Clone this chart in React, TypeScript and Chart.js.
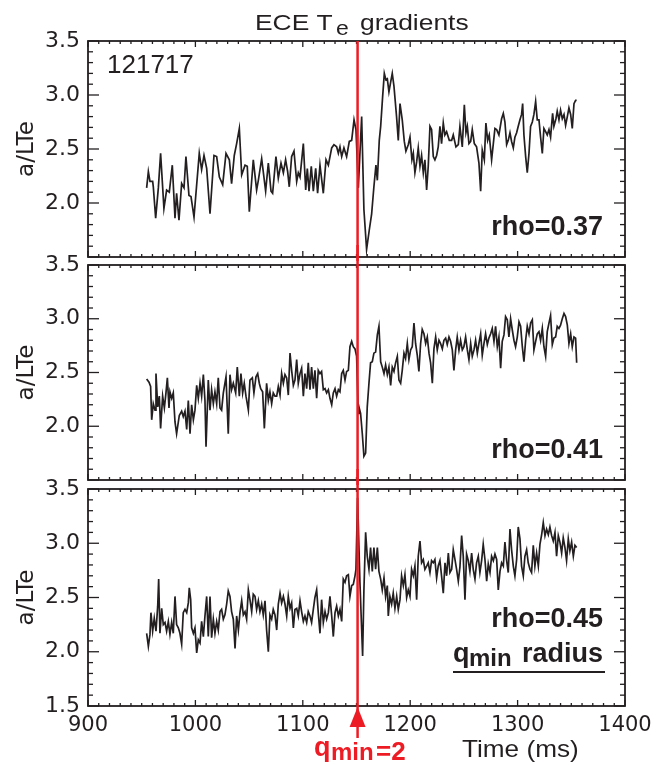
import React, { useEffect, useRef } from 'react';
import { Chart, registerables } from 'chart.js';

Chart.register(...registerables);

// ---------- data ----------
const X_MIN = 900;
const X_MAX = 1400;
const X_STEP = 100;
const Y_MIN = 1.5;
const Y_MAX = 3.5;
const Y_STEP = 0.5;
const QMIN_TIME = 1151; // time of q_min = 2 crossing (ms)
const SHOT = '121717';
const TITLE_MAIN = 'ECE T';
const TITLE_SUB = 'e';
const TITLE_REST = 'gradients';
const Y_LABEL = 'a/LTe';
const X_LABEL = 'Time (ms)';
const RHO_LABELS = ['rho=0.37', 'rho=0.41', 'rho=0.45'];

// rho = 0.37
const time037 = [
  954.6, 956.2, 957.7, 960.2, 960.8, 963.0, 965.5, 967.6, 970.7, 973.2,
  975.7, 978.5, 981.0, 982.5, 984.7, 987.2, 989.4, 991.2, 994.0, 995.9,
  998.7, 1003.6, 1005.8, 1008.0, 1010.5, 1013.6, 1017.3, 1019.8, 1022.3, 1025.4,
  1028.5, 1031.6, 1033.7, 1036.2, 1038.4, 1040.9, 1043.1, 1046.2, 1048.3, 1050.2,
  1053.9, 1057.0, 1058.6, 1061.7, 1065.4, 1067.9, 1070.4, 1071.9, 1075.0, 1077.2,
  1079.7, 1081.9, 1084.0, 1085.9, 1087.4, 1089.6, 1091.8, 1094.3, 1095.8, 1097.4,
  1100.5, 1102.7, 1104.2, 1105.8, 1107.9, 1109.8, 1112.0, 1113.8, 1116.0, 1119.1,
  1121.6, 1123.8, 1126.9, 1129.0, 1131.5, 1133.1, 1134.6, 1136.2, 1138.3, 1140.8,
  1143.3, 1145.5, 1147.7, 1149.5, 1151.7,
  1154.8, 1156.9, 1159.4, 1161.9, 1164.1, 1166.2, 1168.1, 1169.4, 1171.2, 1172.5,
  1174.3, 1175.9, 1177.4, 1178.7, 1180.2, 1181.8, 1183.3, 1184.9, 1187.3, 1188.9,
  1190.5, 1192.6, 1194.5, 1196.0, 1198.2, 1199.8, 1201.6, 1202.9, 1204.4, 1206.0,
  1207.5, 1209.1, 1210.6, 1212.2, 1213.7, 1215.3, 1216.8, 1218.4, 1219.9, 1221.5,
  1223.0, 1224.6, 1226.1, 1227.7, 1229.2, 1230.8, 1232.3, 1233.9, 1236.4, 1238.6,
  1240.1, 1242.6, 1244.8, 1246.3, 1248.5, 1250.4, 1251.9, 1253.2, 1254.7, 1256.3,
  1257.8, 1259.7, 1261.8, 1264.0, 1265.6, 1267.1, 1269.0, 1270.5, 1272.1, 1273.6,
  1275.8, 1277.4, 1278.9, 1280.5, 1282.6, 1285.1, 1286.7, 1288.2, 1289.8, 1291.3,
  1292.9, 1294.4, 1296.0, 1297.5, 1299.1, 1300.6, 1302.2, 1303.7, 1304.7, 1305.9,
  1307.5, 1309.0, 1310.6, 1312.1, 1313.7, 1315.2, 1316.8, 1318.3, 1319.9, 1321.4,
  1323.0, 1324.5, 1326.1, 1327.6, 1329.2, 1330.7, 1332.6, 1333.8, 1335.7, 1336.9,
  1338.5, 1340.0, 1341.6, 1343.2, 1344.7, 1346.3, 1347.8, 1349.4, 1350.9, 1352.5,
  1354.0, 1355.0,
];
const grad037 = [
  2.14, 2.29, 2.20, 2.20, 2.15, 1.86, 2.14, 2.46, 1.95, 2.12,
  2.10, 2.35, 1.86, 2.09, 1.84, 2.18, 2.14, 2.43, 2.07, 2.06,
  1.87, 2.46, 2.31, 2.44, 2.32, 1.90, 2.44, 2.43, 2.24, 2.17,
  2.46, 2.40, 2.18, 2.44, 2.55, 2.69, 2.26, 2.35, 2.34, 1.92,
  2.40, 2.12, 2.21, 2.41, 2.11, 2.37, 2.11, 2.09, 2.43, 2.23,
  2.37, 2.28, 2.40, 2.29, 2.15, 2.43, 2.48, 2.20, 2.28, 2.24,
  2.55, 2.12, 2.32, 2.11, 2.34, 2.11, 2.32, 2.09, 2.35, 2.09,
  2.40, 2.35, 2.51, 2.54, 2.52, 2.46, 2.52, 2.43, 2.51, 2.43,
  2.57, 2.58, 2.77, 2.68, 2.14,
  2.80, 1.94, 1.57, 1.75, 1.90, 2.15, 2.35, 2.21, 2.58, 2.71,
  2.98, 3.20, 3.14, 3.15, 3.03, 3.12, 3.20, 3.08, 2.80, 2.58,
  2.92, 2.77, 2.57, 2.48, 2.54, 2.61, 2.40, 2.46, 2.28, 2.38,
  2.51, 2.34, 2.44, 2.28, 2.40, 2.12, 2.34, 2.71, 2.68, 2.43,
  2.40, 2.44, 2.52, 2.71, 2.55, 2.74, 2.63, 2.66, 2.58, 2.58,
  2.63, 2.52, 2.54, 2.71, 2.52, 2.91, 2.65, 2.71, 2.55, 2.57,
  2.68, 2.55, 2.52, 2.37, 2.11, 2.49, 2.40, 2.74, 2.58, 2.63,
  2.40, 2.55, 2.69, 2.68, 2.63, 2.78, 2.83, 2.75, 2.54, 2.58,
  2.65, 2.57, 2.51, 2.61, 2.65, 2.71, 2.77, 2.82, 2.92, 2.63,
  2.43, 2.28, 2.46, 2.71, 2.75, 2.82, 2.94, 2.77, 2.77, 2.61,
  2.46, 2.69, 2.66, 2.63, 2.68, 2.61, 2.83, 2.71, 2.78, 2.85,
  2.77, 2.86, 2.78, 2.82, 2.72, 2.80, 2.88, 2.82, 2.69, 2.92,
  2.95, 2.95,
];

// rho = 0.41
const time041 = [
  954.6, 956.8, 958.3, 959.3, 960.8, 962.4, 963.3, 964.9, 966.4, 967.6,
  969.5, 971.1, 972.6, 973.9, 975.4, 976.3, 977.9, 979.4, 981.0, 982.5,
  985.0, 987.2, 988.7, 990.3, 991.9, 993.4, 995.0, 996.5, 998.1, 999.6,
  1001.2, 1002.7, 1004.3, 1005.8, 1007.4, 1008.9, 1009.9, 1012.0, 1013.6, 1015.1,
  1016.7, 1018.2, 1019.8, 1021.3, 1022.9, 1024.4, 1026.0, 1028.5, 1030.6, 1032.2,
  1033.7, 1035.3, 1037.5, 1039.0, 1040.9, 1042.4, 1044.0, 1045.5, 1047.1, 1049.3,
  1050.8, 1053.0, 1054.5, 1056.4, 1058.0, 1059.5, 1060.8, 1062.6, 1064.2, 1066.3,
  1067.9, 1069.4, 1071.0, 1072.5, 1074.1, 1075.7, 1077.2, 1078.8, 1080.3, 1081.9,
  1083.4, 1085.0, 1086.5, 1088.1, 1089.6, 1091.2, 1092.7, 1094.3, 1095.8, 1097.4,
  1098.9, 1100.5, 1102.0, 1103.6, 1105.1, 1106.7, 1108.2, 1109.8, 1111.3, 1112.9,
  1114.4, 1116.0, 1117.5, 1119.1, 1120.7, 1122.2, 1123.8, 1125.3, 1126.9, 1128.4,
  1130.0, 1131.5, 1133.1, 1134.6, 1136.2, 1137.7, 1139.3, 1140.8, 1142.4, 1143.9,
  1145.5, 1147.0, 1148.6, 1150.1, 1151.7,
  1152.3, 1153.8, 1155.4, 1156.9, 1158.5, 1160.0, 1161.6, 1163.1, 1164.7, 1166.2,
  1167.8, 1169.4, 1170.9, 1172.5, 1174.0, 1175.6, 1177.1, 1178.7, 1180.2, 1181.8,
  1183.3, 1184.9, 1186.4, 1188.0, 1189.5, 1191.1, 1192.6, 1194.2, 1195.7, 1197.3,
  1198.8, 1200.4, 1201.9, 1203.5, 1205.0, 1206.6, 1208.1, 1209.7, 1211.2, 1212.8,
  1214.4, 1215.9, 1217.5, 1219.0, 1220.6, 1222.1, 1223.7, 1225.2, 1226.8, 1228.3,
  1229.9, 1231.4, 1233.0, 1234.5, 1236.1, 1237.6, 1239.2, 1240.7, 1242.3, 1243.8,
  1245.4, 1246.9, 1248.5, 1250.0, 1251.6, 1253.2, 1254.7, 1256.3, 1257.8, 1259.4,
  1260.9, 1262.5, 1264.0, 1265.6, 1267.1, 1268.7, 1270.2, 1271.8, 1273.3, 1274.9,
  1276.4, 1278.0, 1279.5, 1281.1, 1282.6, 1284.2, 1285.7, 1287.3, 1288.8, 1290.4,
  1291.9, 1293.5, 1295.0, 1296.6, 1298.1, 1299.7, 1301.3, 1302.8, 1304.4, 1305.9,
  1307.5, 1309.0, 1310.6, 1312.1, 1313.7, 1315.2, 1316.8, 1318.3, 1319.9, 1321.4,
  1323.0, 1324.5, 1326.1, 1327.6, 1329.2, 1330.7, 1332.3, 1333.8, 1335.4, 1336.9,
  1338.5, 1340.0, 1341.6, 1343.2, 1344.7, 1346.3, 1347.8, 1349.4, 1350.9, 1352.5,
  1354.0, 1355.0,
];
const grad041 = [
  2.44, 2.41, 2.37, 2.06, 2.21, 2.15, 2.49, 2.18, 2.28, 1.98,
  2.28, 2.17, 2.31, 2.45, 2.17, 2.32, 2.26, 2.31, 2.04, 1.93,
  2.10, 2.14, 2.09, 2.14, 1.97, 2.24, 1.93, 2.20, 2.06, 2.15,
  2.38, 2.26, 2.40, 2.28, 2.48, 2.24, 1.81, 2.43, 2.15, 2.34,
  2.21, 2.32, 2.21, 2.45, 2.17, 2.15, 2.31, 2.46, 1.93, 2.48,
  2.34, 2.40, 2.31, 2.55, 2.28, 2.49, 2.31, 2.40, 2.28, 2.15,
  2.43, 2.45, 2.31, 2.46, 2.49, 2.40, 2.35, 2.32, 1.98, 2.40,
  2.24, 2.32, 2.21, 2.31, 2.28, 2.28, 2.37, 2.29, 2.49, 2.40,
  2.48, 2.45, 2.29, 2.68, 2.52, 2.38, 2.43, 2.62, 2.40, 2.49,
  2.54, 2.28, 2.49, 2.35, 2.59, 2.34, 2.55, 2.35, 2.52, 2.26,
  2.52, 2.49, 2.51, 2.34, 2.35, 2.31, 2.34, 2.26, 2.20, 2.31,
  2.35, 2.28, 2.34, 2.32, 2.49, 2.52, 2.43, 2.51, 2.52, 2.74,
  2.79, 2.74, 2.72, 2.65, 2.12,
  2.18, 2.12, 1.93, 1.72, 1.75, 2.18, 2.40, 2.59, 2.60, 2.68,
  2.69, 2.85, 2.93, 2.60, 2.55, 2.49, 2.57, 2.48, 2.55, 2.38,
  2.55, 2.51, 2.59, 2.65, 2.43, 2.40, 2.52, 2.68, 2.63, 2.77,
  2.62, 2.71, 2.74, 2.96, 2.77, 2.66, 2.51, 2.77, 2.90, 2.86,
  2.77, 2.83, 2.68, 2.59, 2.40, 2.72, 2.83, 2.71, 2.80, 2.77,
  2.72, 2.80, 2.82, 2.76, 2.83, 2.79, 2.71, 2.52, 2.71, 2.83,
  2.71, 2.80, 2.71, 2.74, 2.83, 2.71, 2.62, 2.77, 2.65, 2.71,
  2.80, 2.68, 2.77, 2.86, 2.66, 2.77, 2.86, 2.76, 2.82, 2.86,
  2.91, 2.79, 2.93, 2.74, 2.83, 2.54, 2.79, 2.85, 3.02, 2.99,
  2.83, 3.00, 2.90, 2.80, 2.74, 2.83, 2.97, 2.93, 2.74, 2.60,
  2.80, 2.93, 2.86, 2.96, 2.99, 2.71, 2.79, 2.86, 2.88, 2.80,
  2.91, 2.74, 2.65, 2.88, 2.96, 3.03, 2.76, 2.82, 2.83, 2.93,
  2.91, 2.94, 3.00, 3.05, 3.02, 2.94, 2.77, 2.86, 2.74, 2.83,
  2.82, 2.59,
];

// rho = 0.45
const time045 = [
  954.6, 956.2, 957.7, 958.6, 960.2, 961.7, 963.3, 964.9, 965.8, 967.0,
  968.6, 970.1, 971.7, 973.2, 974.8, 976.3, 977.9, 979.4, 981.0, 982.5,
  984.1, 985.6, 987.2, 988.7, 990.3, 991.9, 993.4, 994.3, 995.6, 996.5,
  998.1, 999.6, 1001.2, 1002.7, 1004.3, 1005.8, 1007.4, 1008.9, 1010.5, 1012.0,
  1013.6, 1015.1, 1016.7, 1018.2, 1019.8, 1021.3, 1022.9, 1024.4, 1026.0, 1027.5,
  1029.1, 1030.6, 1032.2, 1033.7, 1035.3, 1036.9, 1038.4, 1040.0, 1041.5, 1043.1,
  1044.6, 1046.2, 1047.7, 1049.3, 1050.8, 1052.4, 1053.9, 1055.5, 1057.0, 1058.6,
  1060.1, 1061.7, 1063.2, 1064.8, 1066.3, 1067.9, 1069.4, 1071.0, 1072.5, 1074.1,
  1075.7, 1077.2, 1078.8, 1080.3, 1081.9, 1083.4, 1085.0, 1086.5, 1088.1, 1089.6,
  1091.2, 1092.7, 1094.3, 1095.8, 1097.4, 1098.9, 1100.5, 1102.0, 1103.6, 1105.1,
  1106.7, 1108.2, 1109.8, 1111.3, 1112.9, 1114.4, 1116.0, 1117.5, 1119.1, 1120.7,
  1122.2, 1123.8, 1125.3, 1126.9, 1128.4, 1130.0, 1131.5, 1133.1, 1134.6, 1136.2,
  1137.7, 1139.3, 1140.8, 1142.4, 1143.9, 1145.5, 1147.0, 1148.6, 1149.5,
  1151.0, 1153.2, 1154.8, 1155.7, 1156.9, 1158.5, 1160.0, 1161.6, 1163.1, 1164.7,
  1166.2, 1167.8, 1169.4, 1170.9, 1172.5, 1174.0, 1175.6, 1177.1, 1178.7, 1179.6,
  1181.1, 1182.7, 1184.2, 1185.8, 1187.4, 1188.9, 1190.5, 1192.0, 1193.6, 1195.1,
  1196.7, 1198.2, 1199.8, 1201.3, 1202.9, 1204.4, 1206.0, 1207.5, 1209.1, 1210.6,
  1212.2, 1213.7, 1215.3, 1216.8, 1218.4, 1219.9, 1221.5, 1223.0, 1224.6, 1226.1,
  1227.7, 1229.2, 1230.8, 1232.4, 1233.9, 1235.5, 1237.0, 1238.6, 1240.1, 1241.7,
  1243.2, 1244.8, 1246.3, 1247.9, 1249.4, 1251.0, 1252.5, 1254.1, 1255.6, 1257.2,
  1258.7, 1260.3, 1261.8, 1263.4, 1264.9, 1266.5, 1268.0, 1269.6, 1271.2, 1272.7,
  1274.3, 1275.8, 1277.4, 1278.9, 1280.5, 1282.0, 1283.6, 1285.1, 1286.7, 1288.2,
  1289.8, 1291.3, 1292.9, 1294.4, 1296.0, 1297.5, 1299.1, 1300.6, 1302.2, 1303.7,
  1305.3, 1306.8, 1308.4, 1309.9, 1311.5, 1313.0, 1314.6, 1316.1, 1317.7, 1319.3,
  1320.8, 1322.4, 1323.9, 1325.5, 1327.0, 1328.6, 1330.1, 1331.7, 1333.2, 1334.8,
  1336.3, 1337.9, 1339.4, 1341.0, 1342.5, 1344.1, 1345.6, 1347.2, 1348.7, 1350.3,
  1351.9, 1353.4, 1355.0,
];
const grad045 = [
  2.17, 2.05, 2.16, 2.36, 2.19, 2.31, 2.19, 2.42, 2.67, 2.17,
  2.40, 2.25, 2.27, 2.19, 2.28, 2.16, 2.27, 2.17, 2.51, 2.25,
  2.22, 2.17, 2.07, 2.36, 2.39, 2.36, 2.45, 2.59, 2.48, 2.22,
  2.17, 2.22, 1.99, 2.11, 2.08, 2.28, 2.14, 2.33, 2.51, 2.14,
  2.51, 2.13, 2.30, 2.17, 2.28, 2.20, 2.37, 2.39, 2.30, 2.34,
  2.44, 2.56, 2.51, 2.37, 2.30, 2.03, 2.33, 2.20, 2.36, 2.47,
  2.34, 2.37, 2.30, 2.57, 2.48, 2.37, 2.53, 2.51, 2.39, 2.47,
  2.37, 2.44, 2.34, 2.47, 2.20, 2.00, 2.34, 2.30, 2.39, 2.34,
  2.20, 2.44, 2.54, 2.45, 2.51, 2.44, 2.33, 2.51, 2.40, 2.45,
  2.22, 2.39, 2.40, 2.33, 2.47, 2.37, 2.28, 2.33, 2.27, 2.37,
  2.33, 2.27, 2.39, 2.50, 2.57, 2.36, 2.17, 2.48, 2.27, 2.37,
  2.30, 2.36, 2.51, 2.33, 2.14, 2.36, 2.42, 2.33, 2.39, 2.28,
  2.67, 2.64, 2.70, 2.71, 2.51, 2.61, 2.62, 2.70, 2.76,
  3.42, 2.64, 2.20, 1.96, 2.57, 3.10, 2.88, 2.76, 2.96, 2.74,
  2.96, 2.76, 2.96, 2.74, 2.67, 2.57, 2.68, 2.51, 2.61, 2.33,
  2.51, 2.44, 2.54, 2.40, 2.51, 2.39, 2.48, 2.70, 2.61, 2.71,
  2.50, 2.57, 2.51, 2.76, 2.70, 2.79, 2.48, 2.88, 3.02, 2.82,
  2.85, 2.76, 2.79, 2.82, 2.73, 2.84, 2.82, 2.85, 2.68, 2.79,
  2.84, 2.70, 2.54, 2.82, 2.70, 2.91, 2.73, 2.76, 2.94, 2.85,
  2.76, 2.65, 2.78, 3.07, 2.88, 2.48, 2.90, 2.84, 2.74, 2.91,
  2.76, 2.67, 2.82, 2.88, 2.73, 2.84, 2.99, 2.85, 2.65, 2.81,
  2.73, 2.88, 2.84, 2.90, 2.85, 2.57, 2.74, 2.82, 2.79, 3.01,
  2.84, 2.73, 3.13, 2.94, 2.79, 2.70, 2.85, 3.15, 3.04, 2.79,
  2.70, 2.88, 2.94, 2.82, 2.76, 2.73, 2.98, 2.79, 2.91, 2.79,
  2.99, 3.08, 3.19, 3.07, 3.13, 3.08, 3.15, 3.07, 3.02, 3.10,
  2.88, 3.07, 3.01, 2.91, 3.05, 2.96, 2.84, 3.04, 2.93, 3.01,
  2.88, 2.98, 2.96,
];

// ---------- styling ----------
const INK = '#231f20';
const RED = '#ed1c24';
const TICK_FONT = '"DejaVu Sans", sans-serif';
const SANS = '"Liberation Sans", Arial, sans-serif';
const W = 658;
// canvases overlap a little so the top tick label of each lower panel is not clipped
const PANEL_TOPS = [0, 245, 469];
const PANEL_HEIGHTS = [261, 240, 297];
const PAD_TOP = [41, 20, 20];
const PAD_BOTTOM = [4, 5, 0];

function zip(t: number[], v: number[]) {
  const n = Math.min(t.length, v.length);
  const out: { x: number; y: number }[] = [];
  for (let i = 0; i < n; i++) out.push({ x: t[i], y: v[i] });
  return out;
}

function txt(ctx: CanvasRenderingContext2D, s: string, x: number, y: number, font: string, color: string, align: CanvasTextAlign = 'left', sx = 1) {
  ctx.save();
  ctx.font = font;
  ctx.fillStyle = color;
  ctx.textAlign = align;
  ctx.textBaseline = 'alphabetic';
  ctx.translate(x, y);
  ctx.scale(sx, 1);
  ctx.fillText(s, 0, 0);
  ctx.restore();
}

function seg(ctx: CanvasRenderingContext2D, x1: number, y1: number, x2: number, y2: number) {
  ctx.beginPath();
  ctx.moveTo(x1, y1);
  ctx.lineTo(x2, y2);
  ctx.stroke();
}

function decorPlugin(panel: number) {
  const top = PANEL_TOPS[panel];
  return {
    id: 'decor' + panel,
    afterDatasetsDraw(chart: any) {
      const { ctx, chartArea: a, scales } = chart;
      const xs = scales.x;
      const ys = scales.y;
      ctx.save();
      ctx.strokeStyle = INK;
      ctx.lineCap = 'butt';
      // minor / major ticks, inward on all four sides
      ctx.lineWidth = 1.3;
      const nY = Math.round((Y_MAX - Y_MIN) / 0.1);
      for (let i = 0; i <= nY; i++) {
        const y = ys.getPixelForValue(Y_MIN + i * 0.1);
        const len = i % 5 === 0 ? 11 : 5;
        seg(ctx, a.left, y, a.left + len, y);
        seg(ctx, a.right, y, a.right - len, y);
      }
      for (let t = X_MIN; t <= X_MAX; t += 10) {
        const x = xs.getPixelForValue(t);
        const len = (t - X_MIN) % X_STEP === 0 ? 6 : 3;
        seg(ctx, x, a.bottom, x, a.bottom - len);
        seg(ctx, x, a.top, x, a.top + len);
      }
      // frame
      ctx.lineWidth = 1.8;
      ctx.strokeRect(a.left, a.top, a.right - a.left, a.bottom - a.top);

      // red q_min = 2 line
      const xr = xs.getPixelForValue(QMIN_TIME);
      ctx.strokeStyle = RED;
      ctx.lineWidth = 2.5;
      const y0 = panel === 0 ? a.top : 0;
      const y1 = panel === 2 ? 738 - top : chart.height;
      seg(ctx, xr, y0, xr, y1);

      // annotations
      const bold = (s: number) => `bold ${s}px ${SANS}`;
      txt(ctx, RHO_LABELS[panel], 603, [235, 458, 627][panel] - top, bold(27), INK, 'right');

      if (panel === 0) {
        txt(ctx, SHOT, 107, 73, `${26}px ${SANS}`, INK);
        // title
        txt(ctx, TITLE_MAIN, 255, 30, `22px ${SANS}`, INK, 'left', 1.2);
        txt(ctx, TITLE_SUB, 336, 35, `20px ${SANS}`, INK, 'left', 1.15);
        txt(ctx, TITLE_REST, 360, 30, `22px ${SANS}`, INK, 'left', 1.2);
      }
      if (panel === 2) {
        // q_min radius, underlined
        txt(ctx, 'q', 453, 662 - top, bold(27), INK);
        txt(ctx, 'min', 469, 666 - top, bold(24), INK);
        txt(ctx, 'radius', 603, 662 - top, bold(27), INK, 'right');
        ctx.strokeStyle = INK;
        ctx.lineWidth = 2;
        seg(ctx, 453, 672 - top, 605, 672 - top);
        // arrow head
        ctx.fillStyle = RED;
        ctx.beginPath();
        ctx.moveTo(xr, a.bottom + 1);
        ctx.lineTo(xr - 8, a.bottom + 21);
        ctx.lineTo(xr + 8, a.bottom + 21);
        ctx.closePath();
        ctx.fill();
        // q_min = 2 label
        txt(ctx, 'q', 314, 756 - top, bold(27), RED);
        txt(ctx, 'min', 331, 760 - top, bold(24), RED);
        txt(ctx, '=2', 376, 760 - top, bold(26), RED);
        // axis title
        txt(ctx, X_LABEL, 462, 757 - top, `24px ${SANS}`, INK, 'left', 1.09);
      }
      ctx.restore();
    },
  };
}

function makeConfig(panel: number, t: number[], v: number[]) {
  const showX = panel === 2;
  const xScale: any = {
    type: 'linear',
    min: X_MIN,
    max: X_MAX,
    display: showX,
    grid: { display: false, drawTicks: false },
    border: { display: false },
    ticks: {
      stepSize: X_STEP,
      padding: 7,
      autoSkip: false,
      maxRotation: 0,
      color: INK,
      font: { family: TICK_FONT, size: 21 },
      callback: (val: any) => String(val),
    },
  };
  if (showX) {
    xScale.afterFit = (s: any) => {
      s.height = 60;
      s.paddingLeft = 0;
      s.paddingRight = 0;
    };
  }
  return {
    type: 'line' as const,
    data: {
      datasets: [
        {
          data: zip(t, v),
          borderColor: INK,
          borderWidth: 1.7,
          pointRadius: 0,
          tension: 0,
          fill: false,
        },
      ],
    },
    options: {
      responsive: false,
      maintainAspectRatio: false,
      animation: false as const,
      layout: { padding: { top: PAD_TOP[panel], bottom: PAD_BOTTOM[panel], left: 0, right: W - 625 } },
      plugins: { legend: { display: false }, tooltip: { enabled: false }, title: { display: false } },
      scales: {
        x: xScale,
        y: {
          type: 'linear' as const,
          min: Y_MIN,
          max: Y_MAX,
          grid: { display: false, drawTicks: false },
          border: { display: false },
          ticks: {
            stepSize: Y_STEP,
            padding: 8,
            color: INK,
            font: { family: TICK_FONT, size: 22 },
            callback: (val: any) => (panel !== 2 && Number(val) < Y_MIN + 0.01 ? '' : Number(val).toFixed(1)),
          },
          title: {
            display: true,
            text: Y_LABEL,
            color: INK,
            font: { family: TICK_FONT, size: 23 },
            padding: { top: 13, bottom: 0 },
          },
          afterFit: (s: any) => {
            s.width = 88;
            s.paddingTop = 0;
            s.paddingBottom = 0;
          },
        },
      },
    },
    plugins: [decorPlugin(panel)],
  };
}

export default function App() {
  const r0 = useRef<HTMLCanvasElement>(null);
  const r1 = useRef<HTMLCanvasElement>(null);
  const r2 = useRef<HTMLCanvasElement>(null);

  useEffect(() => {
    const series: [number[], number[]][] = [
      [time037, grad037],
      [time041, grad041],
      [time045, grad045],
    ];
    const refs = [r0, r1, r2];
    const charts = refs.map((r, i) => new Chart(r.current as HTMLCanvasElement, makeConfig(i, series[i][0], series[i][1]) as any));
    return () => charts.forEach((c) => c.destroy());
  }, []);

  const refs = [r0, r1, r2];
  return (
    <div style={{ position: 'absolute', left: 0, top: 0, width: W, height: 766, background: '#fff' }}>
      {refs.map((r, i) => (
        <canvas
          key={i}
          ref={r}
          width={W}
          height={PANEL_HEIGHTS[i]}
          style={{ position: 'absolute', left: 0, top: PANEL_TOPS[i], width: W, height: PANEL_HEIGHTS[i], display: 'block' }}
        />
      ))}
    </div>
  );
}
